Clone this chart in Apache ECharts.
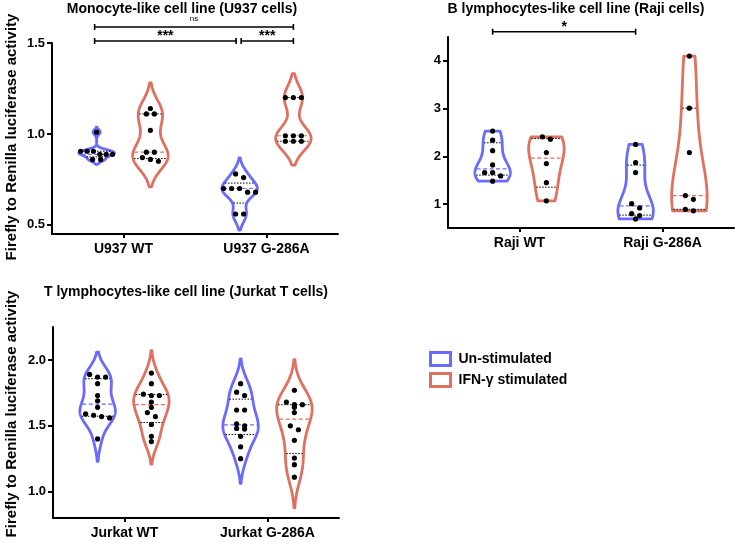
<!DOCTYPE html>
<html><head><meta charset="utf-8">
<script src="https://cdn.jsdelivr.net/npm/echarts@6/dist/echarts.min.js"></script>
<style>html,body{margin:0;padding:0;background:#fff}#c{width:736px;height:548px}</style>
</head><body><div id="c"></div>
<script>
// ---------- data ----------
const u937Categories = ['U937 WT', 'U937 G-286A'];
const u937Unstimulated = [
  [1.01, 0.905, 0.905, 0.905, 0.888, 0.888, 0.888, 0.86, 0.86],
  [0.78, 0.76, 0.70, 0.70, 0.70, 0.68, 0.68, 0.56, 0.56]
];
const u937Stimulated = [
  [1.14, 1.11, 1.11, 1.02, 0.90, 0.90, 0.87, 0.86, 0.85],
  [1.20, 1.20, 1.20, 0.99, 0.99, 0.99, 0.96, 0.96, 0.96]
];
const u937Ticks = [0.5, 1.0, 1.5];
const u937Significance = ['ns', '***', '***'];

const rajiCategories = ['Raji WT', 'Raji G-286A'];
const rajiUnstimulated = [
  [2.53, 2.34, 2.12, 1.82, 1.66, 1.66, 1.59, 1.48],
  [2.25, 1.87, 1.66, 1.01, 0.92, 0.80, 0.76, 0.69]
];
const rajiStimulated = [
  [2.41, 2.36, 2.08, 1.85, 1.45, 1.07],
  [4.10, 3.01, 2.08, 1.18, 1.10, 0.89, 0.86]
];
const rajiTicks = [1, 2, 3, 4];
const rajiSignificance = ['*'];

const jurkatCategories = ['Jurkat WT', 'Jurkat G-286A'];
const jurkatUnstimulated = [
  [1.89, 1.87, 1.87, 1.82, 1.73, 1.69, 1.64, 1.59, 1.58, 1.57, 1.56, 1.40],
  [1.82, 1.755, 1.73, 1.62, 1.62, 1.515, 1.50, 1.48, 1.475, 1.42, 1.34, 1.25]
];
const jurkatStimulated = [
  [1.90, 1.82, 1.74, 1.73, 1.73, 1.68, 1.64, 1.60, 1.57, 1.51, 1.42, 1.38],
  [1.77, 1.68, 1.66, 1.66, 1.64, 1.60, 1.50, 1.47, 1.39, 1.255, 1.205, 1.11]
];
const jurkatTicks = [1.0, 1.5, 2.0];

const seriesNames = ['Un-stimulated', 'IFN-\u03b3 stimulated'];
const panelTitles = [
  'Monocyte-like cell line (U937 cells)',
  'B lymphocytes-like cell line (Raji cells)',
  'T lymphocytes-like cell line (Jurkat T cells)'
];
const yAxisTitle = 'Firefly to Renilla luciferase activity';

// ---------- styling ----------
const BLUE = '#6a6aff';
const RED = '#e0705f';
const FONT = '"Liberation Sans", Arial, Helvetica, sans-serif';
const SIDE_OFF = 0.188;   // fraction of band
const MAX_HALF = 0.124;   // fraction of band

function quantile(s, p) {
  const n = s.length, pos = (n + 1) * p;
  if (pos <= 1) return s[0];
  if (pos >= n) return s[n - 1];
  const i = Math.floor(pos);
  return s[i - 1] + (pos - i) * (s[i] - s[i - 1]);
}
function stats(vals) {
  const s = vals.slice().sort((a, b) => a - b);
  const n = s.length;
  const mean = s.reduce((a, b) => a + b, 0) / n;
  const sd = Math.sqrt(s.reduce((a, b) => a + (b - mean) ** 2, 0) / (n - 1));
  const q1 = quantile(s, 0.25), q2 = quantile(s, 0.5), q3 = quantile(s, 0.75);
  let spread = Math.min(sd, (q3 - q1) / 1.34);
  if (!(spread > 0)) spread = sd;
  const bw = 0.9 * spread * Math.pow(n, -0.2);
  return { s, min: s[0], max: s[n - 1], q1, q2, q3, bw };
}

function violinRender(groups, side, color, truncate) {
  return function (params, api) {
    const vals = groups[params.dataIndex];
    const cat = api.value(0);
    const band = api.size([1, 0])[0];
    const cx = api.coord([cat, 0])[0] + side * band * SIDE_OFF;
    const maxHalf = band * MAX_HALF;
    const st = stats(vals);
    const bw = st.bw;
    const lo = truncate ? st.min : st.min - 2 * bw;
    const hi = truncate ? st.max : st.max + 2 * bw;
    const dens = v => vals.reduce((a, x) => a + Math.exp(-0.5 * ((v - x) / bw) ** 2), 0);
    const N = 200;
    const samp = [];
    let dmax = 0;
    for (let i = 0; i <= N; i++) {
      const v = lo + (hi - lo) * i / N;
      const d = dens(v);
      samp.push([v, d]);
      if (d > dmax) dmax = d;
    }
    const half = v => maxHalf * dens(v) / dmax;
    const right = [], left = [];
    samp.forEach(([v, d]) => {
      const y = api.coord([cat, v])[1];
      const w = maxHalf * d / dmax;
      right.push([cx + w, y]);
      left.unshift([cx - w, y]);
    });
    const children = [{
      type: 'polygon', shape: { points: right.concat(left) },
      style: { fill: '#fff', stroke: color, lineWidth: 2.8, lineJoin: 'round' }
    }];
    [st.q1, st.q3].forEach(q => {
      const y = api.coord([cat, q])[1], w = half(q) - 1;
      children.push({ type: 'line', shape: { x1: cx - w, y1: y, x2: cx + w, y2: y },
        style: { stroke: '#000', lineWidth: 1, lineDash: [1.5, 1.5] } });
    });
    {
      const y = api.coord([cat, st.q2])[1], w = half(st.q2) - 1;
      children.push({ type: 'line', shape: { x1: cx - w, y1: y, x2: cx + w, y2: y },
        style: { stroke: color, lineWidth: 1.2, lineDash: [4, 2.5] } });
    }
    // dots: rows of nearly equal values are spread side by side
    const desc = vals.slice().sort((a, b) => b - a).map(v => ({ v, y: api.coord([cat, v])[1] }));
    const bins = [];
    desc.forEach(p => {
      const b = bins[bins.length - 1];
      if (b && p.y - b[0].y <= 4.5) b.push(p); else bins.push([p]);
    });
    bins.forEach(b => {
      const k = b.length;
      const sp = k > 1 ? Math.min(8, 2 * maxHalf * 0.9 / (k - 1)) : 0;
      b.forEach((p, j) => {
        children.push({ type: 'circle', shape: { cx: cx + (j - (k - 1) / 2) * sp, cy: p.y, r: 2.6 },
          style: { fill: '#000' } });
      });
    });
    return { type: 'group', children };
  };
}

function bracketRender(specs, labels) {
  return function (params, api) {
    const s = specs[params.dataIndex];
    const band = api.size([1, 0])[0];
    const x1 = api.coord([s.from[0], s.y])[0] + s.from[1] * band * SIDE_OFF + (s.d1 || 0);
    const x2 = api.coord([s.to[0], s.y])[0] + s.to[1] * band * SIDE_OFF + (s.d2 || 0);
    const y = api.coord([s.from[0], s.y])[1];
    const st = { stroke: '#000', lineWidth: 1.6 };
    const small = labels[params.dataIndex] === 'ns';
    return { type: 'group', children: [
      { type: 'line', shape: { x1, y1: y, x2, y2: y }, style: st },
      { type: 'line', shape: { x1, y1: y - 3, x2: x1, y2: y + 3 }, style: st },
      { type: 'line', shape: { x1: x2, y1: y - 3, x2, y2: y + 3 }, style: st },
      { type: 'text', style: { text: labels[params.dataIndex], x: (x1 + x2) / 2, y: small ? y - 4 : y + 2,
        align: 'center', verticalAlign: 'bottom', fill: '#000',
        font: small ? ('8px ' + FONT) : ('bold 14px ' + FONT) } }
    ] };
  };
}

function yAxisCfg(gi, min, max, ticks) {
  return {
    type: 'value', gridIndex: gi, min, max,
    axisLine: { show: true, lineStyle: { color: '#000', width: 2 } },
    axisTick: { show: true, length: 5, lineStyle: { color: '#000', width: 2 }, customValues: ticks },
    axisLabel: { customValues: ticks, margin: 7, color: '#000', fontFamily: FONT, fontWeight: 'bold', fontSize: 13,
      formatter: v => (max < 3 ? v.toFixed(1) : String(v)) },
    splitLine: { show: false }
  };
}
function xAxisCfg(gi, cats) {
  return {
    type: 'category', gridIndex: gi, data: cats,
    axisLine: { show: true, lineStyle: { color: '#000', width: 2 } },
    axisTick: { show: true, alignWithLabel: true, length: 4, lineStyle: { color: '#000', width: 2 } },
    axisLabel: { margin: 8, color: '#000', fontFamily: FONT, fontWeight: 'bold', fontSize: 14 },
    splitLine: { show: false }
  };
}

const panels = [
  { cats: u937Categories, un: u937Unstimulated, st: u937Stimulated, trunc: false },
  { cats: rajiCategories, un: rajiUnstimulated, st: rajiStimulated, trunc: true },
  { cats: jurkatCategories, un: jurkatUnstimulated, st: jurkatStimulated, trunc: false }
];

const series = [];
panels.forEach((p, gi) => {
  series.push({ type: 'custom', name: seriesNames[0], xAxisIndex: gi, yAxisIndex: gi, clip: true,
    data: p.un.map((g, i) => [i]), renderItem: violinRender(p.un, -1, BLUE, p.trunc), z: 2 });
  series.push({ type: 'custom', name: seriesNames[1], xAxisIndex: gi, yAxisIndex: gi, clip: true,
    data: p.st.map((g, i) => [i]), renderItem: violinRender(p.st, 1, RED, p.trunc), z: 2 });
});
const u937Brackets = [
  { from: [0, -1], to: [1, 1], y: 1.588, d1: -2 },
  { from: [0, -1], to: [1, -1], y: 1.511, d1: -2, d2: -3.5 },
  { from: [1, -1], to: [1, 1], y: 1.511, d1: 1.5 }
];
const rajiBrackets = [ { from: [0, -1], to: [1, -1], y: 4.61 } ];
series.push({ type: 'custom', xAxisIndex: 0, yAxisIndex: 0, clip: false, silent: true,
  data: u937Significance.map((t, i) => [i]), renderItem: bracketRender(u937Brackets, u937Significance) });
series.push({ type: 'custom', xAxisIndex: 1, yAxisIndex: 1, clip: false, silent: true,
  data: rajiSignificance.map((t, i) => [i]), renderItem: bracketRender(rajiBrackets, rajiSignificance) });

const titleFont = 'bold 14px ' + FONT;
const nameFont = 'bold 15px ' + FONT;
const chart = echarts.init(document.getElementById('c'), null, { renderer: 'canvas' });
chart.setOption({
  animation: false,
  backgroundColor: '#fff',
  grid: [
    { left: 52, top: 43, width: 286, height: 191 },
    { left: 448, top: 37, width: 286, height: 191 },
    { left: 53, top: 327, width: 286, height: 191 }
  ],
  xAxis: [xAxisCfg(0, u937Categories), xAxisCfg(1, rajiCategories), xAxisCfg(2, jurkatCategories)],
  yAxis: [yAxisCfg(0, 0.45, 1.5, u937Ticks), yAxisCfg(1, 0.5, 4.5, rajiTicks), yAxisCfg(2, 0.8, 2.25, jurkatTicks)],
  legend: {
    left: 429, top: 351, padding: 0, orient: 'vertical', itemWidth: 20, itemHeight: 13, itemGap: 5,
    selectedMode: false,
    textStyle: { fontFamily: FONT, fontWeight: 'bold', fontSize: 14, color: '#000', padding: [0, 0, 0, 3] },
    data: [
      { name: seriesNames[0], icon: 'rect', itemStyle: { color: '#fff', borderColor: BLUE, borderWidth: 3 } },
      { name: seriesNames[1], icon: 'rect', itemStyle: { color: '#fff', borderColor: RED, borderWidth: 3 } }
    ]
  },
  graphic: [
    { type: 'text', x: 182, y: 9, style: { text: panelTitles[0], align: 'center', verticalAlign: 'middle', fill: '#000', font: titleFont } },
    { type: 'text', x: 576, y: 9, style: { text: panelTitles[1], align: 'center', verticalAlign: 'middle', fill: '#000', font: titleFont } },
    { type: 'text', x: 186, y: 292, style: { text: panelTitles[2], align: 'center', verticalAlign: 'middle', fill: '#000', font: titleFont } },
    { type: 'text', x: 12, y: 137, rotation: Math.PI / 2, style: { text: yAxisTitle, align: 'center', verticalAlign: 'middle', fill: '#000', font: nameFont } },
    { type: 'text', x: 12, y: 414, rotation: Math.PI / 2, style: { text: yAxisTitle, align: 'center', verticalAlign: 'middle', fill: '#000', font: nameFont } }
  ],
  series
});
</script></body></html>
